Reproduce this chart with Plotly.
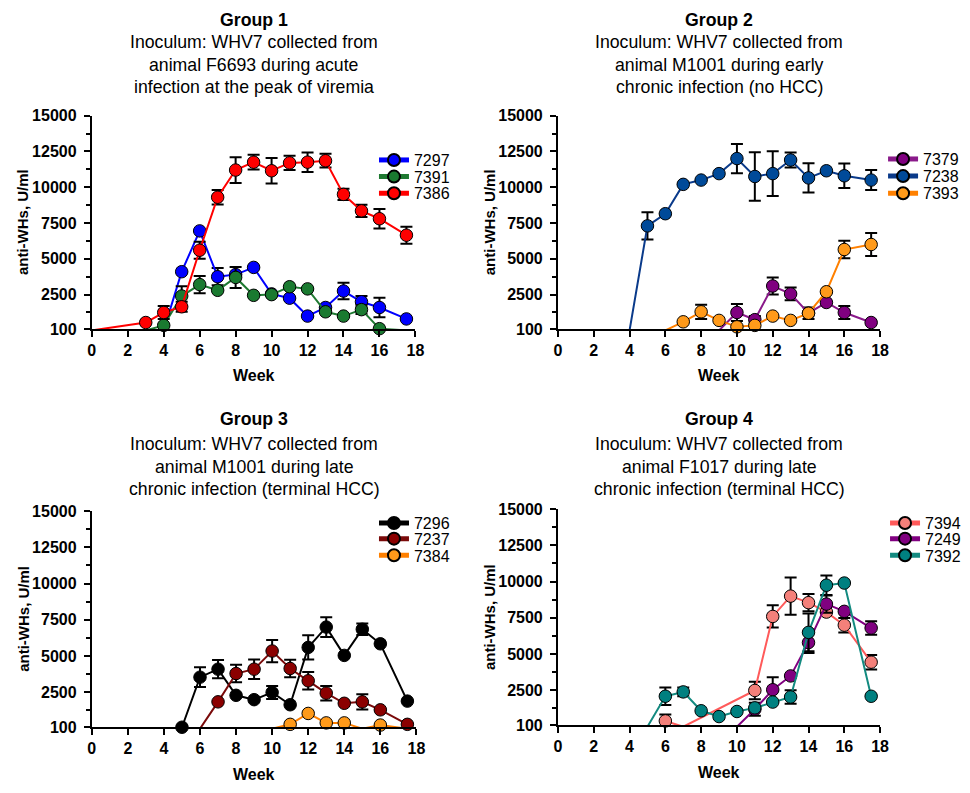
import plotly.graph_objects as go

# ---------------- DATA ----------------
# Group 1
g1_w_7297 = [4, 5, 6, 7, 8, 9, 10, 11, 12, 13, 14, 15, 16, 17.5]
g1_v_7297 = [0, 4100, 6950, 3750, 3900, 4400, 2550, 2250, 1000, 1600, 2750, 2000, 1600, 800]
g1_e_7297 = [0, 0, 0, 600, 0, 0, 0, 0, 0, 0, 570, 400, 680, 0]

g1_w_7391 = [3, 4, 5, 6, 7, 8, 9, 10, 11, 12, 13, 14, 15, 16, 17.5]
g1_v_7391 = [0, 350, 2400, 3200, 2800, 3700, 2450, 2500, 3050, 2900, 1300, 1000, 1450, 120, 0]
g1_e_7391 = [0, 0, 680, 600, 0, 730, 0, 0, 0, 0, 0, 0, 300, 0, 0]

g1_w_7386 = [0, 3, 4, 5, 6, 7, 8, 9, 10, 11, 12, 13, 14, 15, 16, 17.5]
g1_v_7386 = [0, 550, 1250, 1650, 5600, 9300, 11200, 11750, 11150, 11700, 11750, 11850, 9500, 8350, 7800, 6650]
g1_e_7386 = [0, 0, 450, 350, 600, 500, 900, 520, 890, 500, 680, 480, 390, 430, 680, 590]

# Group 2
g2_w_7379 = [9, 10, 11, 12, 13, 14, 15, 16, 17.5]
g2_v_7379 = [0, 1250, 750, 3100, 2550, 1200, 1950, 1250, 550]
g2_e_7379 = [0, 590, 250, 590, 450, 400, 0, 450, 0]

g2_w_7238 = [4, 5, 6, 7, 8, 9, 10, 11, 12, 13, 14, 15, 16, 17.5]
g2_v_7238 = [0, 7300, 8150, 10200, 10500, 10950, 12000, 10750, 10950, 11900, 10650, 11150, 10800, 10500]
g2_e_7238 = [0, 950, 0, 0, 0, 0, 1025, 1690, 1570, 520, 1025, 0, 850, 700]

g2_w_7393 = [6, 7, 8, 9, 10, 11, 12, 13, 14, 15, 16, 17.5]
g2_v_7393 = [0, 600, 1300, 700, 250, 350, 1000, 700, 1200, 2700, 5650, 6000]
g2_e_7393 = [0, 0, 500, 0, 0, 0, 0, 0, 0, 0, 615, 800]

# Group 3
g3_w_7296 = [5, 6, 7, 8, 9, 10, 11, 12, 13, 14, 15, 16, 17.5]
g3_v_7296 = [100, 3550, 4100, 2300, 2000, 2500, 1650, 5600, 7000, 5050, 6850, 5850, 1900]
g3_e_7296 = [0, 675, 630, 0, 0, 450, 0, 830, 675, 0, 400, 0, 0]

g3_w_7237 = [6, 7, 8, 9, 10, 11, 12, 13, 14, 15, 16, 17.5]
g3_v_7237 = [0, 1850, 3800, 4100, 5350, 4150, 3300, 2450, 1750, 1850, 1300, 300]
g3_e_7237 = [0, 0, 600, 675, 765, 600, 600, 500, 0, 520, 0, 0]

g3_w_7384 = [10, 11, 12, 13, 14, 15, 16, 17.5]
g3_v_7384 = [0, 300, 1050, 400, 400, 0, 250, 0]
g3_e_7384 = [0, 0, 0, 0, 0, 0, 0, 0]

# Group 4
g4_w_7394 = [6, 7, 11, 12, 13, 14, 15, 16, 17.5]
g4_v_7394 = [400, 0, 2500, 7600, 9000, 8550, 7900, 7000, 4450]
g4_e_7394 = [450, 0, 600, 765, 1290, 600, 0, 500, 500]

g4_w_7249 = [10, 11, 12, 13, 14, 15, 16, 17.5]
g4_v_7249 = [0, 1200, 2550, 3500, 5800, 8450, 7950, 6800]
g4_e_7249 = [0, 450, 855, 0, 720, 600, 0, 470]

g4_w_7392 = [5, 6, 7, 8, 9, 10, 11, 12, 13, 14, 15, 16, 17.5]
g4_v_7392 = [0, 2100, 2400, 1100, 700, 1050, 1300, 1700, 2050, 6500, 9750, 9900, 2100]
g4_e_7392 = [0, 600, 300, 0, 0, 0, 0, 0, 470, 1300, 675, 0, 0]

x_ticks = [0, 2, 4, 6, 8, 10, 12, 14, 16, 18]
y_ticks = [100, 2500, 5000, 7500, 10000, 12500, 15000]
y_minor = [1300, 3750, 6250, 8750, 11250, 13750]

titles = {
    1: ["Group 1", "Inoculum: WHV7 collected from", "animal F6693 during acute", "infection at the peak of viremia"],
    2: ["Group 2", "Inoculum: WHV7 collected from", "animal M1001 during early", "chronic infection (no HCC)"],
    3: ["Group 3", "Inoculum: WHV7 collected from", "animal M1001 during late", "chronic infection (terminal HCC)"],
    4: ["Group 4", "Inoculum: WHV7 collected from", "animal F1017 during late", "chronic infection (terminal HCC)"],
}

# ---------------- LAYOUT HELPERS ----------------
W, H = 970, 793
FONT = "Liberation Sans, Arial, sans-serif"

def px_x(p):
    return p / W

def px_y(p):
    return 1 - p / H

# panel pixel boxes: (left, right, top, bottom)
boxes = {
    1: (89, 417, 110, 328),
    2: (561.5, 888, 110, 328),
    3: (89, 418, 514, 735),
    4: (561.5, 888, 512, 733),
}
# title line centres (px)
title_rows = {
    1: [12, 35, 58, 81],
    2: [12, 35, 58, 81],
    3: [420, 446, 469, 492],
    4: [420, 446, 469, 492],
}
# legend entry positions (px): (legend left x, entry centre y)
legend_entries = [
    (375, 159), (375, 176), (375, 193),
    (891, 158), (891, 175.5), (891, 193),
    (375, 530), (375, 546), (375, 563),
    (893, 530), (893, 546), (893, 563),
]

fig = go.Figure()

series = [
    (1, "7297", g1_w_7297, g1_v_7297, g1_e_7297, "#0000FF", "#0000FF"),
    (1, "7391", g1_w_7391, g1_v_7391, g1_e_7391, "#1f7a32", "#1a7a30"),
    (1, "7386", g1_w_7386, g1_v_7386, g1_e_7386, "#FF0000", "#FF0000"),
    (2, "7379", g2_w_7379, g2_v_7379, g2_e_7379, "#8a1a8a", "#800080"),
    (2, "7238", g2_w_7238, g2_v_7238, g2_e_7238, "#0a3a8a", "#004a99"),
    (2, "7393", g2_w_7393, g2_v_7393, g2_e_7393, "#FF8000", "#FF9a1a"),
    (3, "7296", g3_w_7296, g3_v_7296, g3_e_7296, "#000000", "#000000"),
    (3, "7237", g3_w_7237, g3_v_7237, g3_e_7237, "#7a0a0a", "#8B0000"),
    (3, "7384", g3_w_7384, g3_v_7384, g3_e_7384, "#FF8000", "#FF9a1a"),
    (4, "7394", g4_w_7394, g4_v_7394, g4_e_7394, "#FF5a5a", "#F4807a"),
    (4, "7249", g4_w_7249, g4_v_7249, g4_e_7249, "#800080", "#800080"),
    (4, "7392", g4_w_7392, g4_v_7392, g4_e_7392, "#138a80", "#008080"),
]

layout = dict(
    width=W, height=H,
    margin=dict(l=0, r=0, t=0, b=0),
    paper_bgcolor="white", plot_bgcolor="white",
    font=dict(family=FONT, color="black"),
    showlegend=True,
    annotations=[],
)

LEG_OFF = 21  # distance from legend top to entry centre

for i, (panel, name, w, v, e, lc, mc) in enumerate(series):
    sfx = "" if panel == 1 else str(panel)
    lg = "legend" if i == 0 else f"legend{i + 1}"
    sizes = [12.5 if val > 0 else 0 for val in v]
    fig.add_trace(go.Scatter(
        x=w, y=v, name=name, mode="lines+markers",
        xaxis="x" + sfx, yaxis="y" + sfx, legend=lg,
        line=dict(color=lc, width=2),
        marker=dict(color=mc, size=sizes, opacity=1, line=dict(color="black", width=1)),
        error_y=dict(type="data", array=e, color="black", thickness=2, width=6, symmetric=True),
        cliponaxis=False,
    ))
    lx, ly = legend_entries[i]
    layout[lg] = dict(
        x=px_x(lx), y=px_y(ly - LEG_OFF), xanchor="left", yanchor="top",
        xref="paper", yref="paper",
        bgcolor="rgba(0,0,0,0)", borderwidth=0,
        font=dict(family=FONT, size=16, color="black"),
        itemsizing="constant",
    )

for p, (l, r, t, b) in boxes.items():
    sfx = "" if p == 1 else str(p)
    layout["xaxis" + sfx] = dict(
        domain=[px_x(l), px_x(r)], anchor="y" + sfx, range=[0, 18],
        tickmode="array", tickvals=x_ticks, ticktext=[str(t_) for t_ in x_ticks],
        ticks="outside", ticklen=6, tickwidth=2, tickcolor="black",
        showline=True, linewidth=2, linecolor="black",
        showgrid=False, zeroline=False,
        tickfont=dict(family=FONT, size=16, weight="bold", color="black"),
    )
    layout["yaxis" + sfx] = dict(
        domain=[px_y(b), px_y(t)], anchor="x" + sfx, range=[100, 15000],
        tickmode="array", tickvals=y_ticks, ticktext=[str(t_) for t_ in y_ticks],
        ticks="outside", ticklen=6, tickwidth=2, tickcolor="black",
        minor=dict(tickvals=y_minor, ticks="outside", ticklen=4, tickwidth=2, tickcolor="black"),
        showline=True, linewidth=2, linecolor="black",
        showgrid=False, zeroline=False, ticklabelstandoff=4,
        tickfont=dict(family=FONT, size=16, weight="bold", color="black"),
    )
    cx = (l + r) / 2
    for k, txt in enumerate(titles[p]):
        layout["annotations"].append(dict(
            x=px_x(cx), y=px_y(title_rows[p][k]), xref="paper", yref="paper",
            text=txt, showarrow=False, xanchor="center", yanchor="middle",
            font=dict(family=FONT, size=17.7, color="black", weight="bold" if k == 0 else "normal"),
        ))
    layout["annotations"].append(dict(
        x=px_x(cx), y=px_y(b + 48), xref="paper", yref="paper",
        text="Week", showarrow=False, xanchor="center", yanchor="middle",
        font=dict(family=FONT, size=16, color="black", weight="bold"),
    ))
    layout["annotations"].append(dict(
        x=px_x(l - 70), y=px_y((t + b) / 2), xref="paper", yref="paper",
        text="anti-WHs, U/ml", showarrow=False, textangle=-90,
        xanchor="center", yanchor="middle",
        font=dict(family=FONT, size=15, color="black", weight="bold"),
    ))

fig.update_layout(**layout)

fig.write_html("out.html", config={"displayModeBar": False},
               post_script="document.body.style.margin='0px';")
